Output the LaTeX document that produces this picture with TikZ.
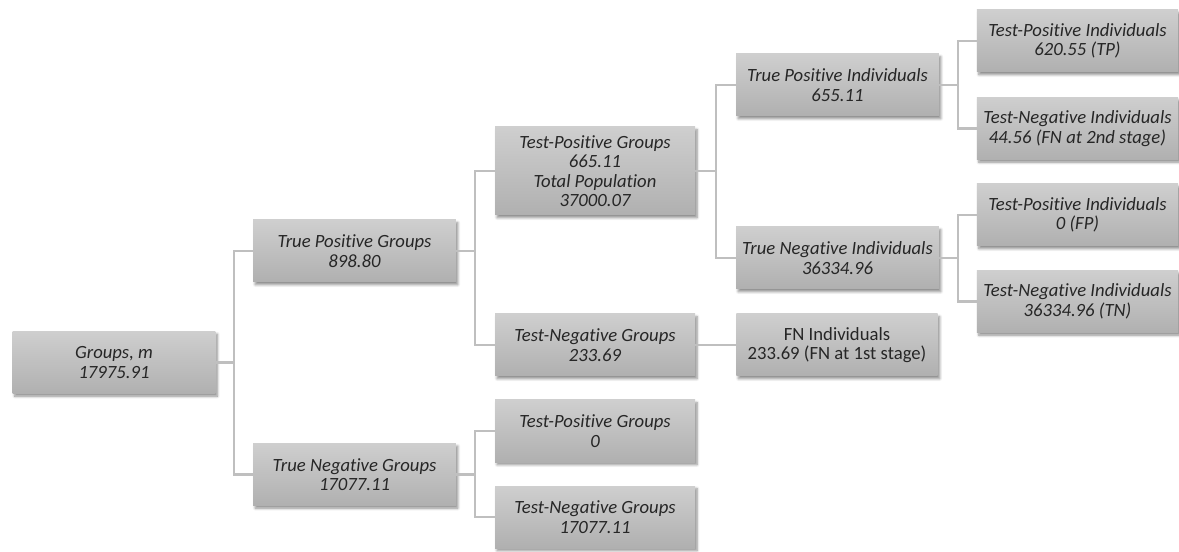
\documentclass[tikz,border=0pt]{standalone}
\usepackage{fontspec}
\setmainfont{Carlito}[Ligatures={NoCommon}]
\usetikzlibrary{calc,shadows.blur}
\begin{document}
\begin{tikzpicture}[x=0.75pt,y=-0.75pt,
  box/.style={rectangle, minimum width=152pt, minimum height=46.5pt, inner sep=1pt,
    top color=gray!38, bottom color=gray!62, draw=none, align=center,
    font=\fontsize{14}{14.6}\selectfont\itshape, text=black!85,
    blur shadow={shadow xshift=1.5pt, shadow yshift=-2pt, shadow blur steps=6, shadow opacity=45}},
  upbox/.style={box, font=\fontsize{14}{14.6}\selectfont},
  conn/.style={draw=gray!50, line width=1.6pt}]
\useasboundingbox (0,0) rectangle (1179,552);
\node[box] (g0) at (114,362.5) {Groups, \textit{m}\\17975.91};
\node[box] (tpg) at (354.5,251) {True Positive Groups\\898.80};
\node[box] (tng) at (354.5,474.5) {True Negative Groups\\17077.11};
\node[box, minimum width=150pt, minimum height=66pt] (tpgg) at (595,171) {Test-Positive Groups\\665.11\\Total Population\\37000.07};
\node[box, minimum width=150pt] (tngg) at (595,345) {Test-Negative Groups\\233.69};
\node[box, minimum width=150pt] (tpg0) at (595,431) {Test-Positive Groups\\0};
\node[box, minimum width=150pt] (tng17) at (595,517) {Test-Negative Groups\\17077.11};
\node[box] (tpi) at (837.5,85) {True Positive Individuals\\655.11};
\node[box] (tni) at (837.5,258) {True Negative Individuals\\36334.96};
\node[upbox, minimum width=151pt] (fn1) at (837,345) {FN Individuals\\233.69 (FN at 1st stage)};
\node[box, minimum width=151pt] (tp) at (1077.5,41) {Test-Positive Individuals\\620.55 (TP)};
\node[box, minimum width=151pt] (fn2) at (1077.5,128.5) {Test-Negative Individuals\\44.56 (FN at 2nd stage)};
\node[box, minimum width=151pt] (fp) at (1077.5,215) {Test-Positive Individuals\\0 (FP)};
\node[box, minimum width=151pt] (tn) at (1077.5,301.5) {Test-Negative Individuals\\36334.96 (TN)};
\foreach \a/\b in {g0/tpg,g0/tng,tpg/tpgg,tpg/tngg,tng/tpg0,tng/tng17,tpgg/tpi,tpgg/tni,tpi/tp,tpi/fn2,tni/fp,tni/tn}
  \draw[conn] (\a.east) -| ($(\a.east)!.5!(\b.west)$) |- (\b.west);
\draw[conn] (tngg.east) -- (fn1.west);
\end{tikzpicture}
\end{document}
